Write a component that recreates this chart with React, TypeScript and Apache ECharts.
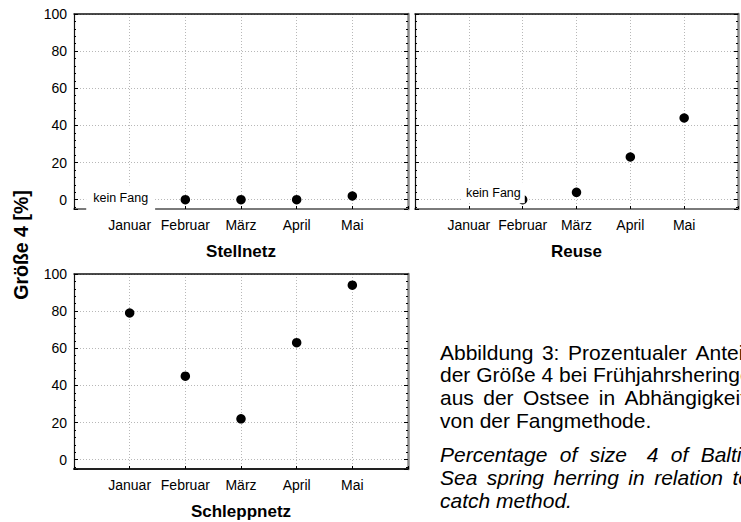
import React, { useEffect, useRef } from "react";
import * as echarts from "echarts";

const months = ["Januar", "Februar", "März", "April", "Mai"];
const axisCategories = ["", ...months, ""];
const stellnetz: (number | null)[] = [null, 0, 0, 0, 2];
const reuse: (number | null)[] = [null, 0, 4, 23, 44];
const schleppnetz: (number | null)[] = [79, 45, 22, 63, 94];
const noCatchLabel = "kein Fang";
const panelTitles = ["Stellnetz", "Reuse", "Schleppnetz"];
const yTitle = "Größe 4 [%]";
const captionDe = [
  "Abbildung 3: Prozentualer Anteil",
  "der Größe 4 bei Frühjahrsheringen",
  "aus der Ostsee in Abhängigkeit",
  "von der Fangmethode.",
];
const captionEn = [
  "Percentage of size  4 of Baltic",
  "Sea spring herring in relation to",
  "catch method.",
];

const FONT = '"Liberation Sans", Arial, Helvetica, sans-serif';
const GRID_LINE = { show: true, lineStyle: { color: "#b8b8b8", type: [1, 2] as any, width: 1 } };

function pairs(values: (number | null)[]) {
  const out: [string, number][] = [];
  values.forEach((v, i) => {
    if (v !== null) out.push([months[i], v]);
  });
  return out;
}

function justifiedLine(
  line: string,
  x0: number,
  y: number,
  targetRight: number | null,
  style: { fontSize: number; fontStyle: string }
) {
  const font = `${style.fontStyle} normal ${style.fontSize}px ${FONT}`;
  const base = {
    fill: "#000",
    fontSize: style.fontSize,
    fontStyle: style.fontStyle,
    fontFamily: FONT,
    align: "left",
    verticalAlign: "middle",
  };
  if (targetRight === null) {
    return [{ type: "text", x: x0, y, style: { ...base, text: line } }];
  }
  const canvas = document.createElement("canvas");
  const ctx = canvas.getContext("2d")!;
  ctx.font = font;
  const words = line.split(/ +/);
  const gapsRaw = (line.match(/ +/g) || []).map((s) => (s.length > 1 ? 1.6 : 1));
  const widths = words.map((w) => ctx.measureText(w).width);
  const total = widths.reduce((a, b) => a + b, 0);
  const weight = gapsRaw.reduce((a, b) => a + b, 0) || 1;
  const unit = (targetRight - x0 - total) / weight;
  const out: any[] = [];
  let x = x0;
  words.forEach((w, i) => {
    out.push({ type: "text", x, y, style: { ...base, text: w } });
    x += widths[i] + (gapsRaw[i] || 0) * unit;
  });
  return out;
}

export default function App() {
  const ref = useRef<HTMLDivElement>(null);
  useEffect(() => {
    if (!ref.current) return;
    const chart = echarts.init(ref.current, null, { renderer: "svg" });

    const grids = [
      { left: 74, top: 14, width: 334, height: 195 },
      { left: 415, top: 14, width: 334, height: 195 },
      { left: 74, top: 274, width: 334, height: 195 },
    ];
    const bottomColor = ["#7a7a7a", "#7a7a7a", "#222"];
    const showYLabels = [true, false, true];
    const datasets = [stellnetz, reuse, schleppnetz];
    const kfOffsets: any[] = [[-9, -2], [24, -7], null];
    const kfPadding: any[] = [[6, 7, 6, 7], [4, 4, 4, 5], null];

    const xAxis: any[] = [];
    const yAxis: any[] = [];
    const series: any[] = [];
    grids.forEach((g, i) => {
      xAxis.push({
        gridIndex: i,
        type: "category",
        data: axisCategories,
        boundaryGap: false,
        position: "bottom",
        axisLine: { show: true, onZero: false, lineStyle: { color: bottomColor[i], width: 2 } },
        axisTick: { show: true, inside: true, length: 3, interval: 0, lineStyle: { color: "#000" } },
        axisLabel: { interval: 0, color: "#000", fontSize: 14, margin: 9, fontFamily: FONT },
        splitLine: { ...GRID_LINE, interval: 0 },
        name: panelTitles[i],
        nameLocation: "middle",
        nameGap: 34,
        nameTextStyle: { color: "#000", fontWeight: "bold", fontSize: 17, fontFamily: FONT },
      });
      xAxis.push({
        gridIndex: i,
        type: "category",
        data: axisCategories,
        boundaryGap: false,
        position: "top",
        axisLine: { show: true, onZero: false, lineStyle: { color: "#111", width: 1.5 } },
        axisTick: { show: false },
        axisLabel: { show: false },
        splitLine: { show: false },
      });
      yAxis.push({
        gridIndex: i,
        type: "value",
        min: -5,
        max: 100,
        splitNumber: 5,
        position: "left",
        axisLine: { show: true, onZero: false, lineStyle: { color: "#111", width: 1.2 } },
        axisTick: { show: true, inside: true, length: 4, lineStyle: { color: "#000" } },
        minorTick: { show: true, splitNumber: 5, length: 2, lineStyle: { color: "#000" } },
        axisLabel: {
          show: showYLabels[i],
          color: "#000",
          fontSize: 14,
          margin: 7,
          fontFamily: FONT,
          formatter: (v: number) => (v < 0 ? "" : String(v)),
        },
        splitLine: GRID_LINE,
      });
      yAxis.push({
        gridIndex: i,
        type: "value",
        min: -5,
        max: 100,
        splitNumber: 5,
        position: "right",
        axisLine: { show: true, onZero: false, lineStyle: { color: "#8a8a8a", width: 2.5 } },
        axisTick: { show: true, inside: true, length: 4, lineStyle: { color: "#000" } },
        minorTick: { show: true, splitNumber: 5, length: 2, lineStyle: { color: "#000" } },
        axisLabel: { show: false },
        splitLine: { show: false },
      });
      series.push({
        type: "scatter",
        xAxisIndex: i * 2,
        yAxisIndex: i * 2,
        data: pairs(datasets[i]),
        symbol: "circle",
        symbolSize: 9.5,
        itemStyle: { color: "#000", opacity: 1 },
        emphasis: { disabled: true },
        z: 2,
      });
      if (kfOffsets[i]) {
        series.push({
          type: "scatter",
          xAxisIndex: i * 2,
          yAxisIndex: i * 2,
          data: [[months[0], 0]],
          symbolSize: 1,
          itemStyle: { color: "#fff", opacity: 1 },
          emphasis: { disabled: true },
          z: 5,
          label: {
            show: true,
            position: "inside",
            formatter: noCatchLabel,
            offset: kfOffsets[i],
            backgroundColor: "#fff",
            padding: kfPadding[i],
            color: "#000",
            opacity: 1,
            fontSize: 12.5,
            fontFamily: FONT,
          },
        });
      }
    });

    const graphic: any[] = [
      {
        type: "text",
        x: 21,
        y: 245,
        rotation: Math.PI / 2,
        style: {
          text: yTitle,
          fill: "#000",
          fontSize: 19.5,
          fontWeight: "bold",
          fontFamily: FONT,
          align: "center",
          verticalAlign: "middle",
        },
      },
    ];
    const deRight = [748, null, 746, null];
    captionDe.forEach((line, k) => {
      graphic.push(
        ...justifiedLine(line, 440, 352 + k * 22.8, deRight[k], { fontSize: 21, fontStyle: "normal" })
      );
    });
    const enRight = [752, 750, null];
    captionEn.forEach((line, k) => {
      graphic.push(
        ...justifiedLine(line, 440, 454 + k * 23, enRight[k], { fontSize: 21, fontStyle: "italic" })
      );
    });

    chart.setOption({
      animation: false,
      backgroundColor: "#fff",
      textStyle: { fontFamily: FONT },
      grid: grids,
      xAxis,
      yAxis,
      series,
      graphic,
    });
    return () => chart.dispose();
  }, []);
  return (
    <div
      ref={ref}
      style={{ position: "fixed", left: 0, top: 0, width: 741, height: 522, background: "#fff" }}
    />
  );
}
